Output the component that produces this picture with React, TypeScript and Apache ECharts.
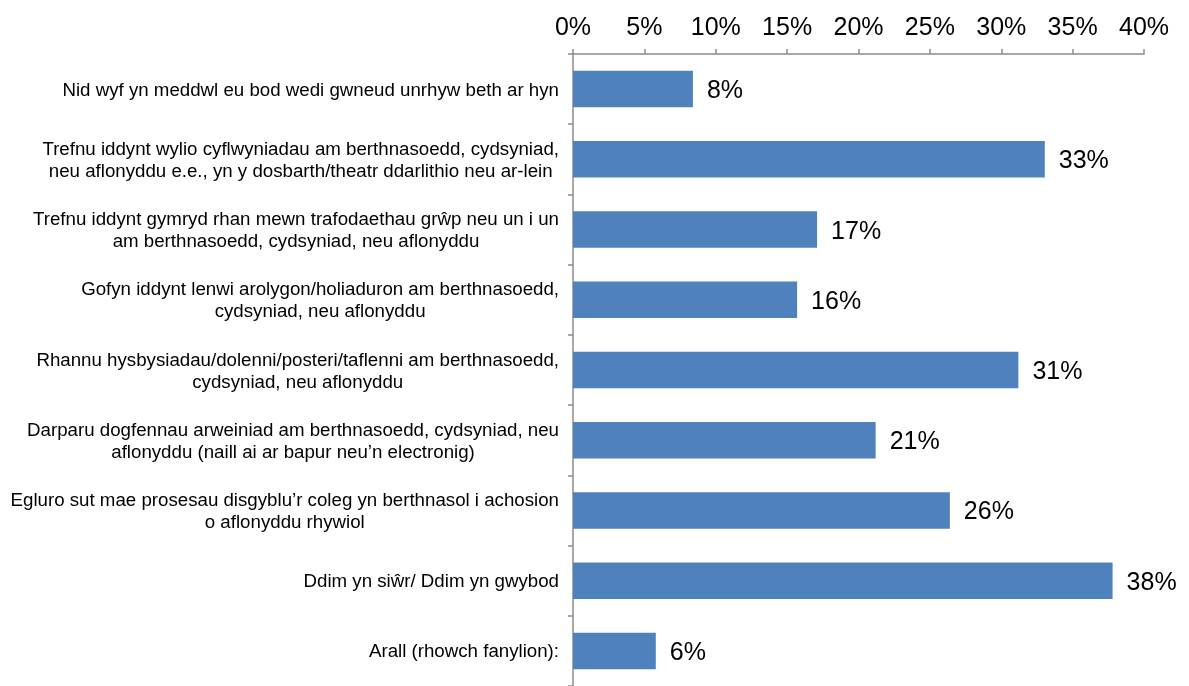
import React, { useEffect, useRef } from "react";
import * as echarts from "echarts";

const categories: string[] = [
  "Nid wyf yn meddwl eu bod wedi gwneud unrhyw beth ar hyn",
  "Trefnu iddynt wylio cyflwyniadau am berthnasoedd, cydsyniad,\nneu aflonyddu e.e., yn y dosbarth/theatr ddarlithio neu ar-lein",
  "Trefnu iddynt gymryd rhan mewn trafodaethau grŵp neu un i un\nam berthnasoedd, cydsyniad, neu aflonyddu",
  "Gofyn iddynt lenwi arolygon/holiaduron am berthnasoedd,\ncydsyniad, neu aflonyddu",
  "Rhannu hysbysiadau/dolenni/posteri/taflenni am berthnasoedd,\ncydsyniad, neu aflonyddu",
  "Darparu dogfennau arweiniad am berthnasoedd, cydsyniad, neu\naflonyddu (naill ai ar bapur neu’n electronig)",
  "Egluro sut mae prosesau disgyblu’r coleg yn berthnasol i achosion\no aflonyddu rhywiol",
  "Ddim yn siŵr/ Ddim yn gwybod",
  "Arall (rhowch fanylion):",
];

const values: number[] = [8.4, 33.05, 17.1, 15.7, 31.2, 21.2, 26.4, 37.8, 5.8];

const xMin = 0;
const xMax = 40;
const xInterval = 5;

export default function App() {
  const ref = useRef<HTMLDivElement>(null);
  useEffect(() => {
    if (!ref.current) return;
    const chart = echarts.init(ref.current, undefined, { renderer: "svg" });
    const font = "Arial, 'Liberation Sans', sans-serif";
    chart.setOption({
      animation: false,
      grid: { left: 573, right: 45, top: 54, height: 636, containLabel: false },
      xAxis: {
        type: "value",
        position: "top",
        min: xMin,
        max: xMax,
        interval: xInterval,
        axisLine: { show: true, lineStyle: { color: "#8c8c8c", width: 1.5 } },
        axisTick: { show: true, length: 5, lineStyle: { color: "#8c8c8c", width: 1.5 } },
        splitLine: { show: false },
        axisLabel: {
          formatter: "{value}%",
          fontFamily: font,
          fontSize: 25,
          color: "#000",
          margin: 16,
        },
      },
      yAxis: {
        type: "category",
        inverse: true,
        data: categories,
        axisLine: { show: true, lineStyle: { color: "#8c8c8c", width: 1.5 } },
        axisTick: { show: true, length: 5, lineStyle: { color: "#8c8c8c", width: 1.5 } },
        axisLabel: {
          margin: 14,
          align: "right",
          formatter: (v: string) =>
            v
              .split("\n")
              .map((l) => `{c|${l}}`)
              .join("\n"),
          rich: {
            c: {
              align: "center",
              fontFamily: font,
              fontSize: 18.7,
              lineHeight: 22,
              color: "#000",
            },
          },
        },
      },
      series: [
        {
          type: "bar",
          data: values,
          barCategoryGap: "48%",
          itemStyle: { color: "#4F81BD" },
          label: {
            show: true,
            position: "right",
            distance: 14,
            formatter: (p: any) => `${Math.round(p.value)}%`,
            fontFamily: font,
            fontSize: 25,
            color: "#000",
          },
        },
      ],
    });
    return () => chart.dispose();
  }, []);
  return (
    <div
      ref={ref}
      style={{ position: "fixed", left: 0, top: 0, width: 1189, height: 686 }}
    />
  );
}
